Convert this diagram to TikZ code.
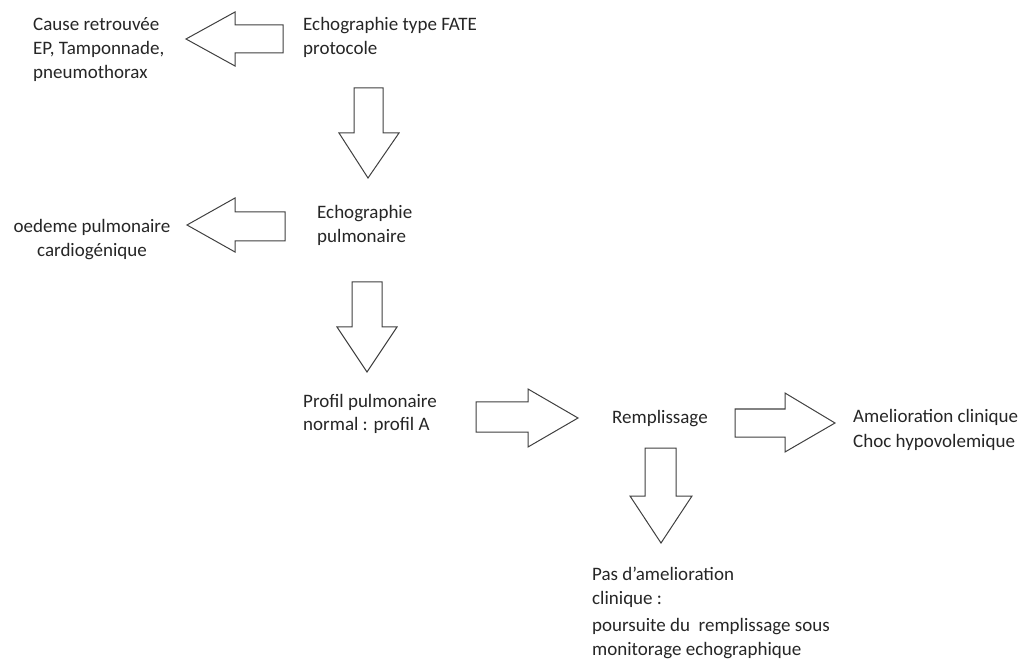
\documentclass[tikz,border=0pt]{standalone}
\usepackage{fontspec}
\setmainfont{Carlito}
\begin{document}
\begin{tikzpicture}[x=1pt,y=-1pt]
\tikzset{
  blockarrow/.style={draw=black!75, line width=1pt, fill=white, line join=miter},
  lbl/.style={inner sep=0pt, anchor=base west, text=black!85, font=\fontsize{19}{24}\selectfont},
}
\useasboundingbox[fill=white] (0,0) rectangle (1026,668);

% texts
\node[lbl] (cause) at (33,31) {\begin{tabular}[t]{@{}l@{}}Cause retrouvée\\EP, Tamponnade,\\pneumothorax\end{tabular}};
\node[lbl] (fate) at (303,31) {\begin{tabular}[t]{@{}l@{}}Echographie type FATE\\protocole\end{tabular}};
\node[lbl, anchor=base] (oap) at (92,233) {\begin{tabular}[t]{@{}c@{}}oedeme pulmonaire\\cardiogénique\end{tabular}};
\node[lbl] (echopulm) at (317,219) {\begin{tabular}[t]{@{}l@{}}Echographie\\pulmonaire\end{tabular}};
\node[lbl] (profil) at (303,407) {\begin{tabular}[t]{@{}l@{}}Profil pulmonaire\\normal : profil A\end{tabular}};
\node[lbl] (rempl) at (612,423) {Remplissage};
\node[lbl] (amel) at (853,422) {\begin{tabular}[t]{@{}l@{}}Amelioration clinique\\[1pt]Choc hypovolemique\end{tabular}};
\node[lbl] (pas) at (592,580) {\begin{tabular}[t]{@{}l@{}}Pas d'amelioration\\clinique :\\[3pt]poursuite du\ \ remplissage sous\\monitorage echographique\end{tabular}};

% block arrows
\draw[blockarrow] (283,25) -- (235,25) -- (235,12) -- (186,39) -- (235,66) -- (235,53) -- (283,53) -- cycle;
\draw[blockarrow] (354,88) -- (383,88) -- (383,133) -- (399,133) -- (368,178) -- (339,133) -- (354,133) -- cycle;
\draw[blockarrow] (285,212) -- (235,212) -- (235,198) -- (187,225) -- (235,252) -- (235,241) -- (285,241) -- cycle;
\draw[blockarrow] (352,282) -- (382,282) -- (382,327) -- (397,327) -- (367,372) -- (337,327) -- (352,327) -- cycle;
\draw[blockarrow] (476,402) -- (528,402) -- (528,389) -- (578,418) -- (528,447) -- (528,432) -- (476,432) -- cycle;
\draw[blockarrow] (735,409) -- (785,409) -- (785,393) -- (835,423) -- (785,452) -- (785,437) -- (735,437) -- cycle;
\draw[blockarrow] (645,448) -- (676,448) -- (676,496) -- (692,496) -- (661,543) -- (630,496) -- (645,496) -- cycle;
\end{tikzpicture}
\end{document}
